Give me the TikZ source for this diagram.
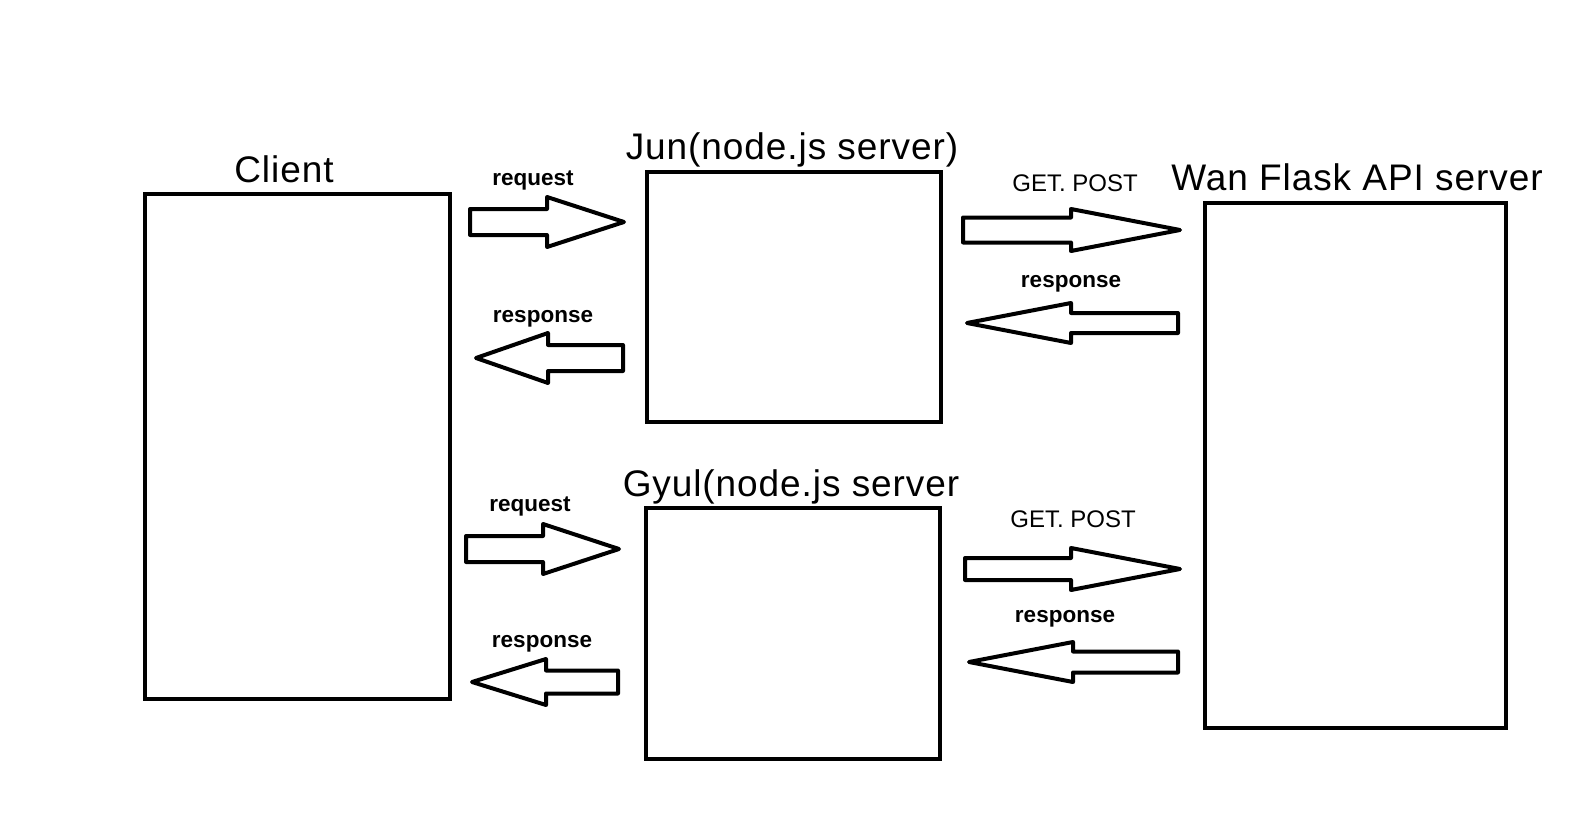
\documentclass[tikz,border=0pt]{standalone}
\usepackage{fontspec}
\setmainfont{Liberation Sans}
\tikzset{
  box/.style={draw=black, line width=4.5pt, fill=white, inner sep=0pt},
  title/.style={inner sep=0pt, font=\fontsize{37}{40}\selectfont\addfontfeature{LetterSpace=2.5}},
  lbl/.style={inner sep=0pt, font=\fontsize{22.5}{24}\selectfont\bfseries},
  lblthin/.style={inner sep=0pt, font=\fontsize{24}{26}\selectfont},
  arrowline/.style={draw=black, line width=4pt, line join=round, fill=white},
  pics/blockarrow/.style n args={4}{code={
    \draw[arrowline] (0,-#2) -- ({#1-#4},-#2) -- ({#1-#4},-#3) -- (#1,0)
      -- ({#1-#4},#3) -- ({#1-#4},#2) -- (0,#2) -- cycle;}}
}
\begin{document}
\begin{tikzpicture}[x=1pt,y=-1pt]
\useasboundingbox (0,0) rectangle (1582,840);
% boxes
\node[box, minimum width=305pt, minimum height=505pt] (client) at (297.5,446.5) {};
\node[box, minimum width=294pt, minimum height=250pt] (jun) at (794,297) {};
\node[box, minimum width=294pt, minimum height=251pt] (gyul) at (793,633.5) {};
\node[box, minimum width=301pt, minimum height=525pt] (wan) at (1355.5,465.5) {};
% titles
\node[title] (tclient) at (284,169) {Client};
\node[title] (tjun) at (792,150) {Jun(node.js server)};
\node[title] (twan) at (1357,177) {Wan Flask API server};
\node[title] (tgyul) at (791,487) {Gyul(node.js server};
% arrow anchor coordinates
\coordinate (a1) at (470,222);
\coordinate (a2) at (623,358);
\coordinate (a3) at (963,230);
\coordinate (a4) at (1178,323);
\coordinate (a5) at (466,549);
\coordinate (a6) at (618,682);
\coordinate (a7) at (965,569);
\coordinate (a8) at (1178,662);
% arrows
\pic at (a1) {blockarrow={154}{13}{25}{77}};
\pic[xscale=-1] at (a2) {blockarrow={147}{13}{25}{72}};
\pic at (a3) {blockarrow={217}{12.5}{21}{109}};
\pic[xscale=-1] at (a4) {blockarrow={211}{10}{20}{104}};
\pic at (a5) {blockarrow={153}{13}{25}{76}};
\pic[xscale=-1] at (a6) {blockarrow={146}{11.5}{23}{74}};
\pic at (a7) {blockarrow={215}{11}{21}{109}};
\pic[xscale=-1] at (a8) {blockarrow={209}{10.5}{20}{104}};
% labels
\node[lbl] (l1) at (533,180) {request};
\node[lbl] (l2) at (543,319) {response};
\node[lblthin] (l3) at (1075,183) {GET. POST};
\node[lbl] (l4) at (1071,284) {response};
\node[lbl] (l5) at (530,506) {request};
\node[lbl] (l6) at (542,644) {response};
\node[lblthin] (l7) at (1073,519) {GET. POST};
\node[lbl] (l8) at (1065,619) {response};
\end{tikzpicture}
\end{document}
